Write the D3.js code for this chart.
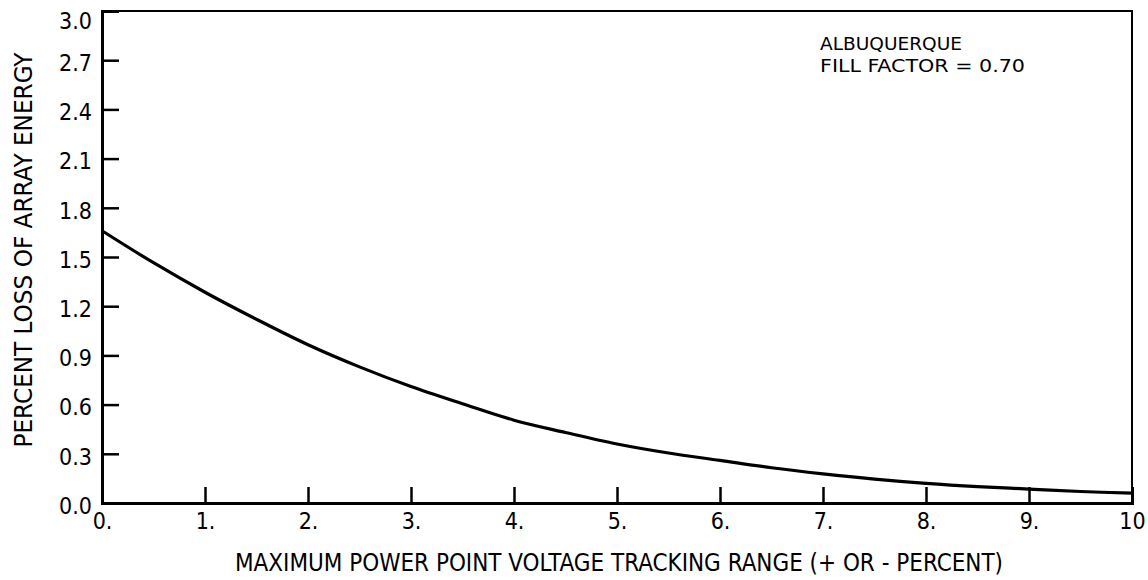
<!DOCTYPE html>
<html>
<head>
<meta charset="utf-8">
<script src="https://cdn.jsdelivr.net/npm/d3@7"></script>
<style>
  html, body { margin: 0; padding: 0; background: #fff; }
  svg { display: block; }
  text { font-family: "DejaVu Sans Condensed", "DejaVu Sans", sans-serif; font-stretch: condensed; fill: #000; }
</style>
</head>
<body>
<svg id="chart" width="1148" height="580"></svg>
<script>
// Data
const trackingRange = [0, 0.5, 1, 1.5, 2, 2.5, 3, 3.5, 4, 4.5, 5, 5.5, 6, 6.5, 7, 7.5, 8, 8.5, 9, 9.5, 10];
const percentLoss   = [1.66, 1.465, 1.285, 1.12, 0.965, 0.83, 0.71, 0.605, 0.505, 0.43, 0.36, 0.305, 0.26, 0.215, 0.178, 0.146, 0.12, 0.10, 0.085, 0.07, 0.06];
const xTicks = [0, 1, 2, 3, 4, 5, 6, 7, 8, 9, 10];
const xTickLabels = ["0.", "1.", "2.", "3.", "4.", "5.", "6.", "7.", "8.", "9.", "10"];
const yTicks = [0, 0.3, 0.6, 0.9, 1.2, 1.5, 1.8, 2.1, 2.4, 2.7, 3.0];
const yTickLabels = ["0.0", "0.3", "0.6", "0.9", "1.2", "1.5", "1.8", "2.1", "2.4", "2.7", "3.0"];
const annotation = ["ALBUQUERQUE", "FILL FACTOR = 0.70"];
const xTitle = "MAXIMUM POWER POINT VOLTAGE TRACKING RANGE (+ OR - PERCENT)";
const yTitle = "PERCENT LOSS OF ARRAY ENERGY";

const svg = d3.select("#chart");
const mLeft = 102, mRight = 1132, mTop = 11, mBottom = 503;

const x = d3.scaleLinear().domain([0, 10]).range([mLeft, mRight]);
const y = d3.scaleLinear().domain([0, 3.0]).range([mBottom, mTop]);

// Frame
svg.append("rect")
  .attr("x", mLeft).attr("y", mTop)
  .attr("width", mRight - mLeft).attr("height", mBottom - mTop)
  .attr("fill", "none").attr("stroke", "#000").attr("stroke-width", 2);

// Y axis (ticks pointing inward)
const yAxis = d3.axisLeft(y)
  .tickValues(yTicks)
  .tickSize(-17)
  .tickPadding(10)
  .tickFormat((d, i) => yTickLabels[i]);
const gy = svg.append("g").attr("transform", `translate(${mLeft},0)`).call(yAxis);
gy.select(".domain").attr("stroke", "#000").attr("stroke-width", 3);
gy.selectAll(".tick line").attr("stroke", "#000").attr("stroke-width", 2.5);
gy.selectAll(".tick text")
  .attr("font-size", 23)
  .attr("dy", (d) => d === 3.0 ? "0.75em" : "0.45em")
  .style("font-family", '"DejaVu Sans Condensed", "DejaVu Sans", sans-serif');

// X axis (ticks pointing upward)
const xAxis = d3.axisBottom(x)
  .tickValues(xTicks)
  .tickSize(-16)
  .tickPadding(12)
  .tickFormat((d, i) => xTickLabels[i]);
const gx = svg.append("g").attr("transform", `translate(0,${mBottom})`).call(xAxis);
gx.select(".domain").attr("stroke", "#000").attr("stroke-width", 3);
gx.selectAll(".tick line").attr("stroke", "#000").attr("stroke-width", 2.5);
gx.selectAll(".tick text")
  .attr("font-size", 23)
  .attr("dy", "0.6em")
  .style("font-family", '"DejaVu Sans Condensed", "DejaVu Sans", sans-serif');

// Curve
const line = d3.line()
  .x((d, i) => x(trackingRange[i]))
  .y(d => y(d))
  .curve(d3.curveCatmullRom.alpha(0.5));
svg.append("path")
  .datum(percentLoss)
  .attr("d", line)
  .attr("fill", "none")
  .attr("stroke", "#000")
  .attr("stroke-width", 3.2);

// Annotation
svg.append("text").attr("x", 820).attr("y", 50).attr("font-size", 18)
  .attr("textLength", 142).attr("lengthAdjust", "spacingAndGlyphs").text(annotation[0]);
svg.append("text").attr("x", 820).attr("y", 72).attr("font-size", 18)
  .attr("textLength", 205).attr("lengthAdjust", "spacingAndGlyphs").text(annotation[1]);

// Axis titles
svg.append("text")
  .attr("x", 619).attr("y", 571)
  .attr("text-anchor", "middle")
  .attr("font-size", 24)
  .attr("textLength", 768)
  .attr("lengthAdjust", "spacingAndGlyphs")
  .text(xTitle);

svg.append("text")
  .attr("transform", "translate(32,250) rotate(-90)")
  .attr("text-anchor", "middle")
  .attr("font-size", 24)
  .attr("textLength", 395)
  .attr("lengthAdjust", "spacingAndGlyphs")
  .text(yTitle);
</script>
</body>
</html>
